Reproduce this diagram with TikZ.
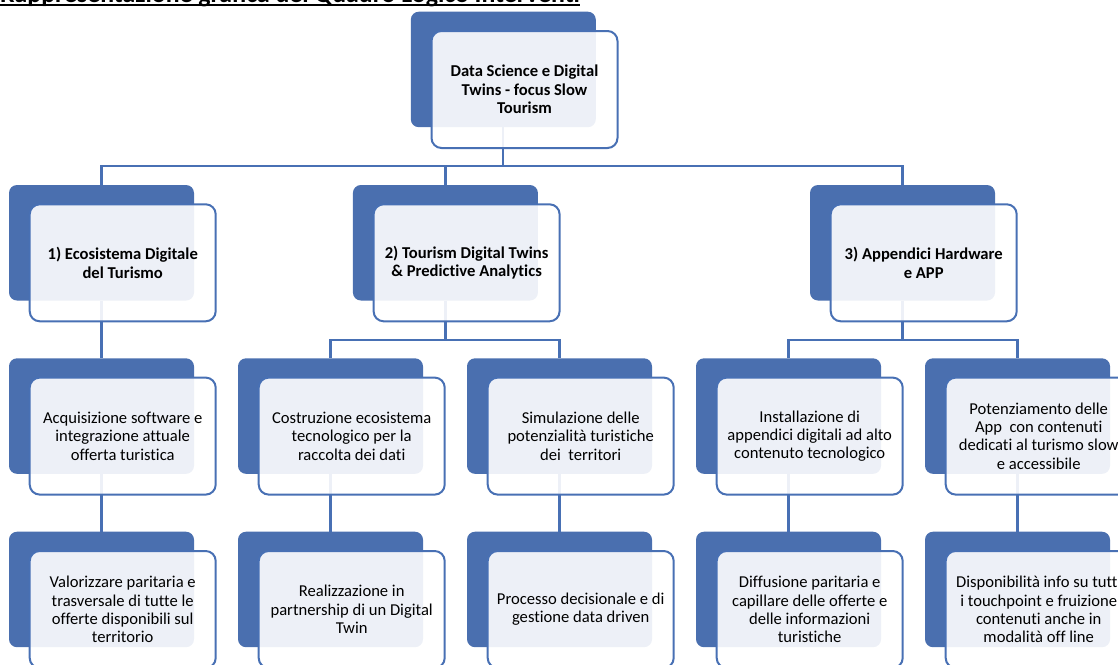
\documentclass[tikz,border=0pt]{standalone}
\usepackage{fontspec}
\setmainfont{Carlito}[Ligatures=NoCommon]
\definecolor{smblue}{RGB}{74,111,175}
\definecolor{smline}{RGB}{72,112,180}
\tikzset{
  backbox/.style={fill=smblue, rounded corners=8pt, minimum width=185pt, minimum height=115.5pt, inner sep=0pt, outer sep=0pt, anchor=north west},
  frontbox/.style={draw=smline, line width=2pt, fill=white, fill opacity=0.9, text opacity=1, rounded corners=10pt, minimum width=186pt, minimum height=117pt, inner sep=0pt, anchor=north west, align=center, font=\fontsize{16.6}{18.3}\selectfont},
  boldfront/.style={frontbox, font=\bfseries\fontsize{16.6}{18.3}\selectfont},
  conn/.style={draw=smline, line width=2.2pt}
}
\begin{document}
\begin{tikzpicture}[x=1pt,y=1pt]
\useasboundingbox (0,0) rectangle (1118,-664);
% title
\node[anchor=base west, inner sep=0pt, font=\bfseries\fontsize{25.8}{30}\selectfont] (title) at (0,-2.6) {Rappresentazione grafica del Quadro Logico Interventi};
\draw[line width=1.8pt] ([yshift=-2.6pt]title.base west) -- ([yshift=-2.6pt]title.base east);
% back boxes
\node[backbox] (t-b) at (410.8,-11.7) {};
\node[backbox] (n1-b) at (9,-185) {};
\node[backbox] (n2-b) at (352.9,-185) {};
\node[backbox] (n3-b) at (810,-185) {};
\foreach \n/\x in {a/9,b/238,c/467,d/696,e/925}{
  \node[backbox] (\n2-b) at (\x,-358.3) {};
  \node[backbox] (\n3-b) at (\x,-531.7) {};
}
% connectors
\foreach \c in {n1,n2,n3}{
  \draw[conn] (t-b.south) -- ++(0,-38.5) -| (\c-b.north);
}
\draw[conn] (n1-b.south) -- (a2-b.north);
\foreach \c in {b2,c2}{
  \draw[conn] (n2-b.south) -- ++(0,-39.5) -| (\c-b.north);
}
\foreach \c in {d2,e2}{
  \draw[conn] (n3-b.south) -- ++(0,-39.5) -| (\c-b.north);
}
\foreach \n in {a,b,c,d,e}{
  \draw[conn] (\n2-b.south) -- (\n3-b.north);
}
% front boxes
\node[boldfront] (t-f) at ([shift={(19.7,-18.3)}]t-b.north west) {Data Science e Digital\\Twins - focus Slow\\Tourism};
\node[boldfront] (n1-f) at ([shift={(19.7,-18.3)}]n1-b.north west) {1) Ecosistema Digitale\\del Turismo};
\node[boldfront] (n2-f) at ([shift={(19.7,-18.3)}]n2-b.north west) {2) Tourism Digital Twins\\\& Predictive Analytics};
\node[boldfront] (n3-f) at ([shift={(19.7,-18.3)}]n3-b.north west) {3) Appendici Hardware\\e APP};
\node[frontbox] (a2-f) at ([shift={(19.7,-18.3)}]a2-b.north west) {Acquisizione software e\\integrazione attuale\\offerta turistica};
\node[frontbox] (b2-f) at ([shift={(19.7,-18.3)}]b2-b.north west) {Costruzione ecosistema\\tecnologico per la\\raccolta dei dati};
\node[frontbox] (c2-f) at ([shift={(19.7,-18.3)}]c2-b.north west) {Simulazione delle\\potenzialità turistiche\\dei\ \ territori};
\node[frontbox] (d2-f) at ([shift={(19.7,-18.3)}]d2-b.north west) {Installazione di\\appendici digitali ad alto\\contenuto tecnologico};
\node[frontbox] (e2-f) at ([shift={(19.7,-18.3)}]e2-b.north west) {Potenziamento delle\\App\ \ con contenuti\\dedicati al turismo slow\\e accessibile};
\node[frontbox] (a3-f) at ([shift={(19.7,-18.3)}]a3-b.north west) {Valorizzare paritaria e\\trasversale di tutte le\\offerte disponibili sul\\territorio};
\node[frontbox] (b3-f) at ([shift={(19.7,-18.3)}]b3-b.north west) {Realizzazione in\\partnership di un Digital\\Twin};
\node[frontbox] (c3-f) at ([shift={(19.7,-18.3)}]c3-b.north west) {Processo decisionale e di\\gestione data driven};
\node[frontbox] (d3-f) at ([shift={(19.7,-18.3)}]d3-b.north west) {Diffusione paritaria e\\capillare delle offerte e\\delle informazioni\\turistiche};
\node[frontbox] (e3-f) at ([shift={(19.7,-18.3)}]e3-b.north west) {Disponibilità info su tutti\\i touchpoint e fruizione\\contenuti anche in\\modalità off line};
\end{tikzpicture}
\end{document}
